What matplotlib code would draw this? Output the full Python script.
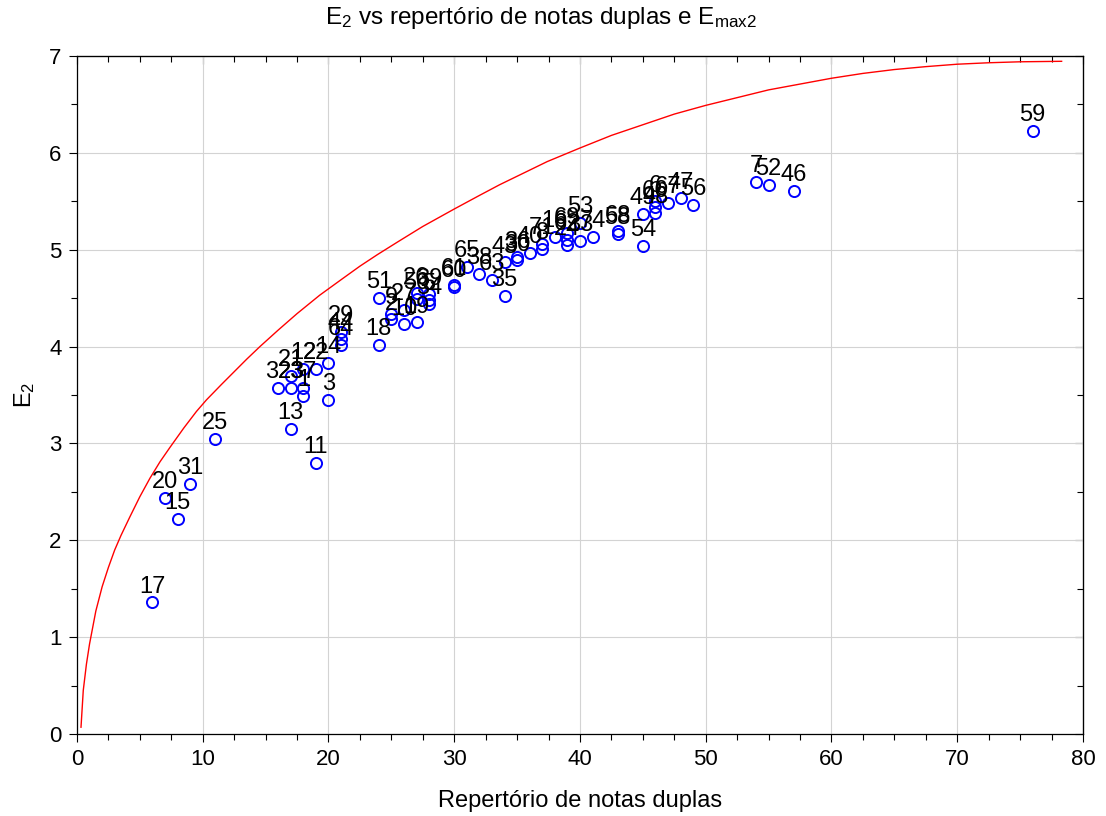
import matplotlib
matplotlib.use("Agg")
import matplotlib.pyplot as plt
from matplotlib.ticker import MultipleLocator

plt.rcParams['font.family'] = ['Liberation Sans', 'DejaVu Sans']
plt.rcParams['mathtext.fontset'] = 'custom'
plt.rcParams['mathtext.rm'] = 'Liberation Sans'
plt.rcParams['mathtext.it'] = 'Liberation Sans:italic'
plt.rcParams['mathtext.bf'] = 'Liberation Sans:bold'

# Observed points: repertoire of double notes (x), E2 (y), label
rep_x = [6, 7, 8, 9, 11, 16, 17, 17, 17, 18, 18, 18, 19, 19, 20, 20,
         21, 21, 21, 24, 24, 25, 25, 26, 26, 27, 27, 27, 28, 28, 28,
         30, 30, 31, 32, 33, 34, 34, 35, 35, 36, 37, 37, 38, 39, 39, 39,
         40, 40, 41, 43, 43, 45, 45, 46, 46, 46, 47, 48, 49, 54, 55, 57, 76]
e2_y = [1.36, 2.44, 2.22, 2.58, 3.05, 3.57, 3.57, 3.70, 3.15, 3.57, 3.49, 3.77, 3.77, 2.80, 3.83, 3.45,
        4.15, 4.08, 4.02, 4.50, 4.02, 4.34, 4.28, 4.38, 4.23, 4.55, 4.49, 4.25, 4.54, 4.44, 4.48,
        4.62, 4.64, 4.82, 4.75, 4.69, 4.52, 4.87, 4.89, 4.92, 4.97, 5.01, 5.06, 5.13, 5.05, 5.10, 5.17,
        5.09, 5.28, 5.13, 5.16, 5.19, 5.37, 5.04, 5.38, 5.44, 5.50, 5.48, 5.53, 5.46, 5.70, 5.67, 5.61, 6.23]
labels = ['17', '20', '15', '31', '25', '32', '23', '21', '13', '37', '1', '12', '22', '11', '14', '3',
          '29', '44', '64', '51', '18', '9', '2', '27', '10', '26', '50', '19', '39', '34', '5',
          '60', '61', '65', '38', '63', '35', '43', '30', '36', '40', '8', '71', '16', '24', '62', '69',
          '33', '53', '74', '58', '68', '49', '54', '48', '66', '6', '67', '47', '56', '7', '52', '46', '59']

# Emax2 curve, values
curve_x = [0.32, 0.5, 0.75, 1.0, 1.5, 2.0, 2.5, 3.0, 3.5, 4.2, 5.0, 5.8, 6.6, 7.4, 8.5, 9.5,
           10.3, 11.5, 12.5, 13.5, 14.55, 16.0, 17.5, 19.3, 21.0, 22.5, 23.9, 25.5, 27.5,
           30.0, 32.0, 33.6, 35.5, 37.4, 40.0, 42.5, 45.0, 47.5, 50.0, 52.5, 55.0, 57.5,
           60.0, 62.5, 65.0, 67.5, 70.0, 72.5, 75.0, 78.3]
curve_y = [0.07, 0.45, 0.72, 0.93, 1.27, 1.52, 1.72, 1.90, 2.05, 2.24, 2.45, 2.64, 2.81, 2.96, 3.16, 3.33,
           3.45, 3.61, 3.74, 3.87, 4.00, 4.17, 4.34, 4.53, 4.69, 4.83, 4.95, 5.08, 5.24,
           5.42, 5.56, 5.67, 5.79, 5.91, 6.05, 6.18, 6.29, 6.40, 6.49, 6.57, 6.65, 6.71,
           6.77, 6.82, 6.86, 6.89, 6.915, 6.93, 6.94, 6.945]

fig = plt.figure(figsize=(11.06, 8.16), dpi=100)
ax = fig.add_axes([0.0696, 0.1005, 0.9096, 0.8309])

ax.plot(curve_x, curve_y, color='red', lw=1.0, zorder=2)
ax.plot(rep_x, e2_y, linestyle='none', marker='o', markersize=8,
        markerfacecolor='none', markeredgecolor='#0000ff', markeredgewidth=1.4, zorder=3)
for x, y, t in zip(rep_x, e2_y, labels):
    ax.annotate(t, (x, y), xytext=(0, 7), textcoords='offset points',
                ha='center', va='baseline', fontsize=17, color='black', zorder=4)

ax.set_xlim(0, 80)
ax.set_ylim(0, 7)
ax.xaxis.set_major_locator(MultipleLocator(10))
ax.xaxis.set_minor_locator(MultipleLocator(2.5))
ax.yaxis.set_major_locator(MultipleLocator(1))
ax.yaxis.set_minor_locator(MultipleLocator(0.5))
ax.grid(True, which='major', color='#d3d3d3', lw=0.8)
ax.set_axisbelow(True)
ax.tick_params(which='both', direction='out', labelsize=16, width=0.8, pad=5)
ax.tick_params(which='major', length=6)
ax.tick_params(which='minor', length=4)
# mirrored ticks on top/right pointing inward
axt = ax.secondary_xaxis('top')
axt.xaxis.set_major_locator(MultipleLocator(10))
axt.xaxis.set_minor_locator(MultipleLocator(2.5))
axt.tick_params(which='both', direction='in', labeltop=False, width=0.8)
axt.tick_params(which='major', length=6)
axt.tick_params(which='minor', length=4)
axr = ax.secondary_yaxis('right')
axr.yaxis.set_major_locator(MultipleLocator(1))
axr.yaxis.set_minor_locator(MultipleLocator(0.5))
axr.tick_params(which='both', direction='in', labelright=False, width=0.8)
axr.tick_params(which='major', length=6)
axr.tick_params(which='minor', length=4)
for s in ax.spines.values():
    s.set_linewidth(0.9)

ax.set_xlabel('Repertório de notas duplas', fontsize=17, labelpad=14)
ax.set_ylabel('E$_2$', fontsize=17, labelpad=9)
fig.text(0.489, 1 - 24 / 816, 'E$_2$ vs repertório de notas duplas e E$_\\mathrm{max2}$',
         fontsize=17.5, ha='center', va='baseline')

fig.savefig('out.png', dpi=100)
